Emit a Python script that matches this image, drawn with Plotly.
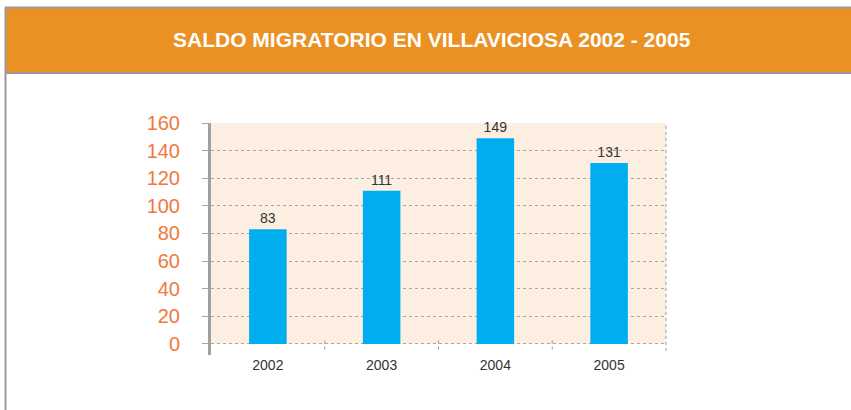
import plotly.graph_objects as go

years = ["2002", "2003", "2004", "2005"]
saldo = [83, 111, 149, 131]
y_ticks = [0, 20, 40, 60, 80, 100, 120, 140, 160]
title_text = "SALDO MIGRATORIO EN VILLAVICIOSA 2002 - 2005"

W, H = 851, 410
L, R, T, B = 211, 666, 123, 355
def px(x): return (x - L) / (R - L)
def py(y): return (B - y) / (B - T)

narrow = "Liberation Sans Narrow, Arial Narrow, Liberation Sans, Arial, sans-serif"

fig = go.Figure()
fig.add_trace(go.Bar(
    x=years, y=saldo, marker=dict(color="#00ADEF", line=dict(width=0)),
    text=[str(v) for v in saldo], textposition="outside", cliponaxis=False,
    textfont=dict(family=narrow, size=14, color="#333333"),
    width=0.33, hoverinfo="skip",
))

shapes = [
    dict(type="rect", xref="paper", yref="y", x0=0, x1=1, y0=0, y1=160,
         fillcolor="#FCEFE1", line=dict(width=0), layer="below"),
    dict(type="rect", xref="paper", yref="paper", x0=px(6), x1=px(860), y0=py(72), y1=py(8),
         fillcolor="#EB9123", line=dict(width=0), layer="below"),
    dict(type="line", xref="paper", yref="paper", x0=px(5), x1=px(860), y0=py(7.5), y1=py(7.5),
         line=dict(color="#9A9A9A", width=2)),
    dict(type="line", xref="paper", yref="paper", x0=px(5), x1=px(860), y0=py(73), y1=py(73),
         line=dict(color="#9A9A9A", width=2)),
    dict(type="line", xref="paper", yref="paper", x0=px(5.5), x1=px(5.5), y0=py(7), y1=py(415),
         line=dict(color="#9A9A9A", width=2)),
    dict(type="line", xref="paper", yref="y", x0=1, x1=1, y0=-5, y1=160,
         line=dict(color="#999999", width=1, dash="dot")),
]
for b in [0.5, 1.5, 2.5]:
    shapes.append(dict(type="line", xref="x", yref="y", x0=b, x1=b, y0=-4, y1=3,
                       line=dict(color="#999999", width=1, dash="dot")))

fig.update_layout(
    width=W, height=H,
    margin=dict(l=L, r=W - R, t=T, b=H - B),
    paper_bgcolor="white", plot_bgcolor="rgba(0,0,0,0)",
    showlegend=False, bargap=0.67,
    shapes=shapes,
    annotations=[dict(text="<b>" + title_text + "</b>", xref="paper", yref="paper",
                      x=px(432), y=py(40), showarrow=False, xanchor="center", yanchor="middle",
                      font=dict(family="Liberation Sans, Arial, sans-serif", size=21, color="white"))],
    xaxis=dict(showgrid=False, showline=False, ticks="",
               tickfont=dict(family=narrow, size=14, color="#333333")),
    yaxis=dict(range=[-8, 160], tickvals=y_ticks, showgrid=True, gridcolor="#A8A8A8",
               griddash="dot", gridwidth=1, zeroline=False, showline=True, linecolor="#A0A0A0",
               linewidth=3, ticks="outside", ticklen=6, tickcolor="#A8A8A8",
               tickfont=dict(family="Liberation Sans, Arial, sans-serif", size=20, color="#F0783C"),
               ticklabelstandoff=18),
)
fig.write_html("out.html", config={"displayModeBar": False},
               post_script="document.body.style.margin='0px';document.body.style.padding='0px';")
